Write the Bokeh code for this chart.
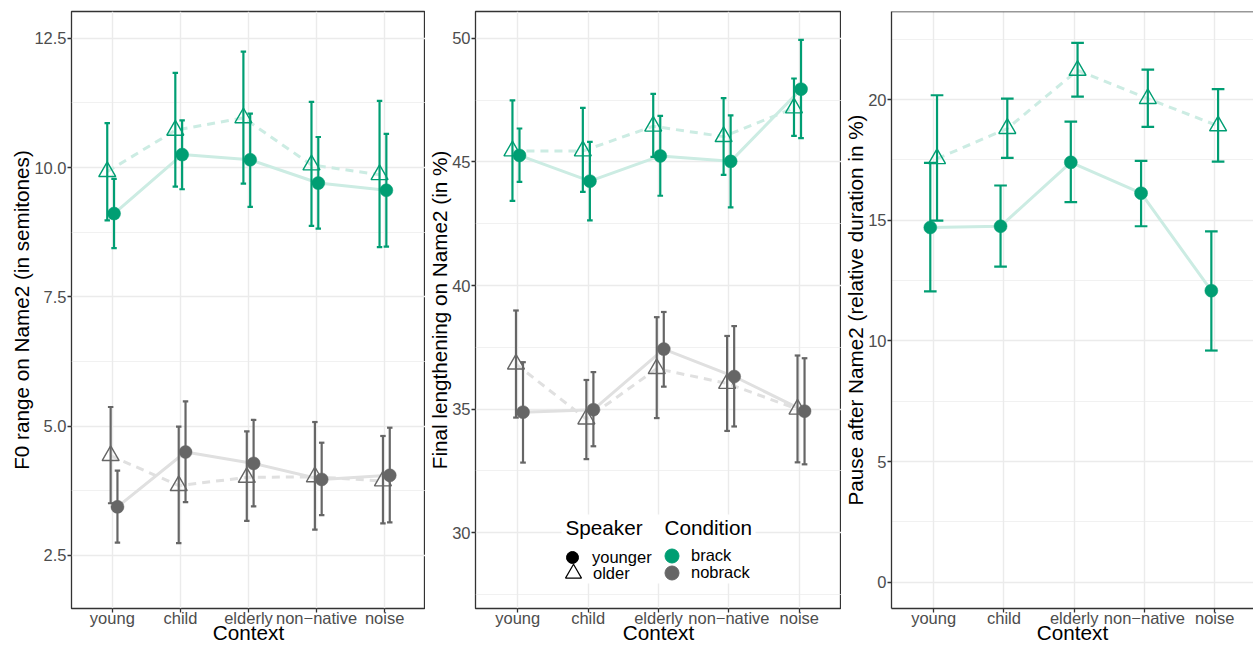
import numpy as np
from bokeh.plotting import figure
from bokeh.models import (Range1d, FixedTicker, ColumnDataSource, Legend, LegendItem,
                          Label, BoxAnnotation, Span)
from bokeh.layouts import row
from bokeh.embed import file_html
from bokeh.resources import INLINE

# ---------------- data ----------------
contexts = ["young", "child", "elderly", "non\u2212native", "noise"]

# Panel 1: F0 range on Name2 (semitones)
f0_brack_younger = [9.11, 10.25, 10.15, 9.70, 9.56]
f0_brack_younger_lo = [8.44, 9.58, 9.24, 8.82, 8.47]
f0_brack_younger_hi = [9.78, 10.91, 11.04, 10.59, 10.65]
f0_brack_older = [9.92, 10.72, 10.96, 10.05, 9.86]
f0_brack_older_lo = [8.98, 9.63, 9.69, 8.87, 8.46]
f0_brack_older_hi = [10.86, 11.83, 12.24, 11.27, 11.29]
f0_nobrack_younger = [3.44, 4.50, 4.28, 3.97, 4.05]
f0_nobrack_younger_lo = [2.75, 3.53, 3.45, 3.28, 3.14]
f0_nobrack_younger_hi = [4.14, 5.48, 5.12, 4.68, 4.97]
f0_nobrack_older = [4.43, 3.85, 4.01, 4.02, 3.94]
f0_nobrack_older_lo = [3.51, 2.74, 3.17, 3.00, 3.12]
f0_nobrack_older_hi = [5.37, 4.99, 4.90, 5.08, 4.81]
f0_ticks = [2.5, 5.0, 7.5, 10.0, 12.5]
f0_tick_labels = ["2.5", "5.0", "7.5", "10.0", "12.5"]
f0_minor = [3.75, 6.25, 8.75, 11.25]

# Panel 2: Final lengthening on Name2 (%)
fl_brack_younger = [45.26, 44.22, 45.24, 45.02, 47.94]
fl_brack_younger_lo = [44.19, 42.63, 43.63, 43.16, 45.96]
fl_brack_younger_hi = [46.35, 45.81, 46.86, 46.88, 49.93]
fl_brack_older = [45.44, 45.44, 46.44, 46.02, 47.18]
fl_brack_older_lo = [43.42, 43.79, 45.20, 44.47, 46.05]
fl_brack_older_hi = [47.49, 47.18, 47.75, 47.58, 48.37]
fl_nobrack_younger = [34.88, 34.98, 37.43, 36.32, 34.92]
fl_nobrack_younger_lo = [32.84, 33.50, 35.91, 34.30, 32.77]
fl_nobrack_younger_hi = [36.90, 36.50, 38.93, 38.36, 37.06]
fl_nobrack_older = [36.82, 34.60, 36.64, 36.04, 35.00]
fl_nobrack_older_lo = [34.66, 32.98, 34.64, 34.12, 32.85]
fl_nobrack_older_hi = [38.99, 36.18, 38.72, 37.96, 37.17]
fl_ticks = [30, 35, 40, 45, 50]
fl_tick_labels = ["30", "35", "40", "45", "50"]
fl_minor = [27.5, 32.5, 37.5, 42.5, 47.5]

# Panel 3: Pause after Name2 (relative duration in %)
pa_brack_younger = [14.70, 14.75, 17.40, 16.12, 12.08]
pa_brack_younger_lo = [12.05, 13.08, 15.75, 14.75, 9.60]
pa_brack_younger_hi = [17.38, 16.44, 19.09, 17.46, 14.54]
pa_brack_older = [17.55, 18.80, 21.21, 20.04, 18.91]
pa_brack_older_lo = [14.98, 17.58, 20.12, 18.87, 17.43]
pa_brack_older_hi = [20.18, 20.04, 22.35, 21.24, 20.43]
pa_ticks = [0, 5, 10, 15, 20]
pa_tick_labels = ["0", "5", "10", "15", "20"]
pa_minor = [2.5, 7.5, 12.5, 17.5, 22.5]

speaker_labels = ["younger", "older"]
condition_labels = ["brack", "nobrack"]

# ---------------- styles ----------------
GREEN = "#009E73"
GREY = "#666666"
GREEN_LINE = "#CCECE3"
GREY_LINE = "#E0E0E0"
FONT = "Liberation Sans"
BORDER = "#333333"
GRID = "#EBEBEB"


def make_panel(width, left_border, x_end, y_start, y_end, ticks, tick_labels, minor,
               ylabel, series, cap_half, framed=True):
    p = figure(width=width, height=647,
               x_range=Range1d(0.4, x_end), y_range=Range1d(y_start, y_end),
               output_backend="svg", toolbar_location=None,
               min_border_left=left_border, min_border_right=0,
               min_border_top=11, min_border_bottom=39,
               background_fill_color="white", border_fill_color="white")
    n = len(contexts)
    xt = list(range(1, n + 1))
    p.xaxis.ticker = FixedTicker(ticks=xt)
    p.xaxis.major_label_overrides = {i + 1: c for i, c in enumerate(contexts)}
    p.yaxis.ticker = FixedTicker(ticks=ticks)
    p.yaxis.major_label_overrides = dict(zip(ticks, tick_labels))
    p.xgrid.ticker = FixedTicker(ticks=xt)
    p.ygrid.ticker = FixedTicker(ticks=ticks, minor_ticks=minor)
    p.xgrid.grid_line_color = GRID
    p.xgrid.grid_line_width = 1.4
    p.ygrid.grid_line_color = GRID
    p.ygrid.grid_line_width = 1.4
    p.ygrid.minor_grid_line_color = GRID
    p.ygrid.minor_grid_line_width = 0.7

    for ax in (p.xaxis[0], p.yaxis[0]):
        ax.major_tick_line_color = BORDER
        ax.major_tick_line_width = 1.3
        ax.major_tick_out = 4
        ax.major_tick_in = 0
        ax.minor_tick_line_color = None
        ax.major_label_text_font = FONT
        ax.major_label_text_font_size = "16.5px"
        ax.major_label_text_color = "#4D4D4D"
        ax.axis_label_text_font = FONT
        ax.axis_label_text_font_size = "20.7px"
        ax.axis_label_text_font_style = "normal"
        ax.axis_label_text_color = "black"
    p.xaxis.axis_label = "Context"
    p.yaxis.axis_label = ylabel
    p.xaxis.major_label_standoff = -4
    p.xaxis.axis_label_standoff = -9
    p.yaxis.major_label_standoff = 1
    p.yaxis.axis_label_standoff = -2

    if framed:
        p.outline_line_color = BORDER
        p.outline_line_width = 1.3
        p.xaxis.axis_line_color = None
        p.yaxis.axis_line_color = None
    else:
        p.outline_line_color = None
        p.xaxis.axis_line_color = BORDER
        p.xaxis.axis_line_width = 1.3
        p.yaxis.axis_line_color = BORDER
        p.yaxis.axis_line_width = 1.3
        p.add_layout(Span(location=y_end, dimension="width",
                          line_color=BORDER, line_width=1.3))

    srcs = []
    for s in series:
        x = [i + 1 + s["offset"] for i in range(n)]
        src = ColumnDataSource(dict(x=x,
                                    xl=[v - cap_half for v in x],
                                    xr=[v + cap_half for v in x],
                                    y=s["y"], lo=s["lo"], hi=s["hi"]))
        srcs.append((s, src))
    for s, src in srcs:
        p.line("x", "y", source=src, line_color=s["line"], line_width=3,
               line_dash="8 6" if s["older"] else "solid")
    for s, src in srcs:
        p.segment("x", "lo", "x", "hi", source=src, line_color=s["color"], line_width=2.2)
        p.segment("xl", "lo", "xr", "lo", source=src, line_color=s["color"], line_width=2.2)
        p.segment("xl", "hi", "xr", "hi", source=src, line_color=s["color"], line_width=2.2)
    for s, src in srcs:
        if s["older"]:
            p.scatter("x", "y", source=src, marker="triangle", size=17,
                      fill_color=None, line_color=s["color"], line_width=1.4)
        else:
            p.scatter("x", "y", source=src, marker="circle", size=13,
                      fill_color=s["color"], line_color=s["color"], line_width=0.5)
    return p


def ser(y, lo, hi, color, line, older, offset):
    return dict(y=y, lo=lo, hi=hi, color=color, line=line, older=older, offset=offset)


p1 = make_panel(425, 71, 5.6, 1.475, 13.016, f0_ticks, f0_tick_labels, f0_minor,
                "F0 range on Name2 (in semitones)",
                [ser(f0_brack_older, f0_brack_older_lo, f0_brack_older_hi, GREEN, GREEN_LINE, True, -0.075),
                 ser(f0_nobrack_older, f0_nobrack_older_lo, f0_nobrack_older_hi, GREY, GREY_LINE, True, -0.025),
                 ser(f0_brack_younger, f0_brack_younger_lo, f0_brack_younger_hi, GREEN, GREEN_LINE, False, 0.025),
                 ser(f0_nobrack_younger, f0_nobrack_younger_lo, f0_nobrack_younger_hi, GREY, GREY_LINE, False, 0.075)],
                0.04)

p2 = make_panel(416, 49, 5.6, 26.94, 51.08, fl_ticks, fl_tick_labels, fl_minor,
                "Final lengthening on Name2 (in %)",
                [ser(fl_brack_older, fl_brack_older_lo, fl_brack_older_hi, GREEN, GREEN_LINE, True, -0.075),
                 ser(fl_nobrack_older, fl_nobrack_older_lo, fl_nobrack_older_hi, GREY, GREY_LINE, True, -0.025),
                 ser(fl_brack_younger, fl_brack_younger_lo, fl_brack_younger_hi, GREEN, GREEN_LINE, False, 0.025),
                 ser(fl_nobrack_younger, fl_nobrack_younger_lo, fl_nobrack_younger_hi, GREY, GREY_LINE, False, 0.075)],
                0.04)

p3 = make_panel(412, 48, 5.552, -1.09, 23.65, pa_ticks, pa_tick_labels, pa_minor,
                "Pause after Name2 (relative duration in %)",
                [ser(pa_brack_younger, pa_brack_younger_lo, pa_brack_younger_hi, GREEN, GREEN_LINE, False, -0.048),
                 ser(pa_brack_older, pa_brack_older_lo, pa_brack_older_hi, GREEN, GREEN_LINE, True, 0.048)],
                0.09, framed=False)

# ---------------- legend (inside panel 2) ----------------
p2.add_layout(BoxAnnotation(left=86, right=280, bottom=25, top=94,
                            left_units="screen", right_units="screen",
                            bottom_units="screen", top_units="screen",
                            fill_color="white", fill_alpha=1.0, line_color=None))

nan_pt = np.array([np.nan])
r_young = p2.scatter(x=nan_pt, y=nan_pt, marker="circle", fill_color="black", line_color="black")
r_old = p2.scatter(x=nan_pt, y=nan_pt, marker="triangle", fill_color=None, line_color="black", line_width=1.2)
r_brack = p2.scatter(x=nan_pt, y=nan_pt, marker="circle", fill_color=GREEN, line_color=GREEN)
r_nobrack = p2.scatter(x=nan_pt, y=nan_pt, marker="circle", fill_color=GREY, line_color=GREY)


def one_legend(label, rend, loc, g, standoff):
    lg = Legend(items=[LegendItem(label=label, renderers=[rend], index=0)], location=loc,
                orientation="vertical", glyph_width=g, glyph_height=g,
                label_standoff=standoff, padding=0, margin=0, spacing=0,
                border_line_color=None, background_fill_alpha=0,
                label_text_font=FONT, label_text_font_size="16.5px",
                label_text_color="black", label_height=16)
    p2.add_layout(lg)


one_legend(speaker_labels[0], r_young, (82, 36), 30, 5)
one_legend(speaker_labels[1], r_old, (78, 15), 40, -1)
one_legend(condition_labels[0], r_brack, (179, 35), 35, 2)
one_legend(condition_labels[1], r_nobrack, (179, 18), 35, 2)

for txt, xx in (("Speaker", 90), ("Condition", 189)):
    p2.add_layout(Label(x=xx, y=81, x_units="screen", y_units="screen", text=txt,
                        text_font=FONT, text_font_size="20.7px",
                        text_baseline="alphabetic", text_color="black"))

layout = row(p1, p2, p3)
open("out.html", "w").write(file_html(layout, INLINE))
